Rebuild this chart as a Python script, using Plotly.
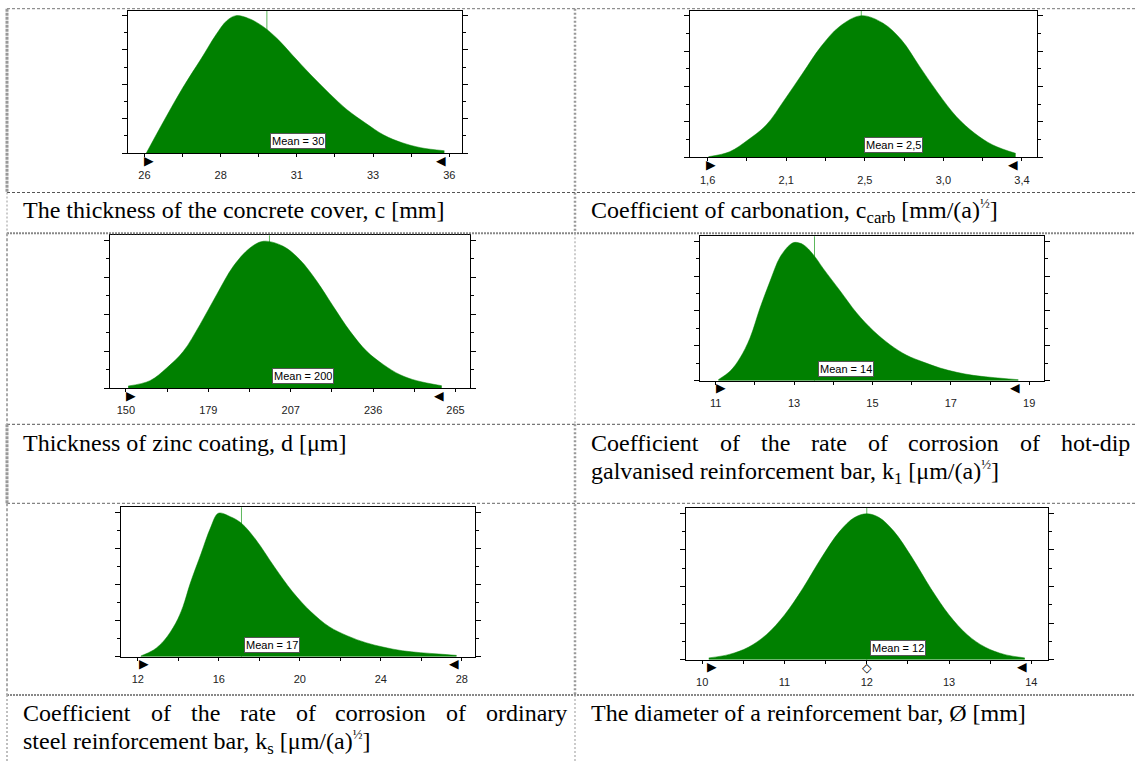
import plotly.graph_objects as go

W, H = 1135, 763

# ---------------------------------------------------------------
# Probability density curves (value, density relative to panel height)
# ---------------------------------------------------------------
cover_x = [26.06, 26.65, 27.26, 27.86, 28.33, 28.69, 28.99, 29.40, 29.88, 30.36,
           30.83, 31.44, 32.04, 32.63, 33.23, 33.82, 34.42, 35.03, 35.80]
cover_y = [0.0, 0.232, 0.462, 0.665, 0.829, 0.930, 0.965, 0.946, 0.888, 0.799,
           0.689, 0.548, 0.419, 0.302, 0.209, 0.126, 0.072, 0.037, 0.016]
cover_mean = 30
cover_ticks = ["26", "28", "31", "33", "36"]
cover_tick_span = (26.0, 35.96)

carb_x = [1.635, 1.755, 1.858, 1.962, 2.065, 2.168, 2.272, 2.376, 2.500, 2.624,
          2.728, 2.831, 2.935, 3.039, 3.142, 3.245, 3.374]
carb_y = [0.004, 0.038, 0.118, 0.220, 0.391, 0.573, 0.755, 0.891, 0.966, 0.914,
          0.800, 0.618, 0.437, 0.277, 0.164, 0.084, 0.027]
carb_mean = 2.5
carb_ticks = ["1,6", "2,1", "2,5", "3,0", "3,4"]
carb_tick_span = (1.63, 3.41)

zinc_x = [150.8, 158.4, 164.2, 170.0, 175.8, 181.6, 187.4, 193.2, 197.9, 204.8,
          210.6, 216.5, 222.2, 228.1, 233.9, 239.7, 245.5, 251.3, 260.0]
zinc_y = [0.013, 0.048, 0.131, 0.240, 0.415, 0.611, 0.797, 0.917, 0.961, 0.928,
          0.840, 0.699, 0.535, 0.371, 0.240, 0.153, 0.087, 0.048, 0.015]
zinc_mean = 200
zinc_ticks = ["150", "179", "207", "236", "265"]
zinc_tick_span = (150.0, 264.8)

k1_x = [11.559, 11.855, 12.109, 12.363, 12.617, 12.871, 13.124, 13.378, 13.505,
        13.716, 13.970, 14.224, 14.648, 15.071, 15.493, 15.917, 16.341, 16.762,
        17.186, 17.610, 18.031, 18.455, 19.173]
k1_y = [0.007, 0.065, 0.157, 0.296, 0.503, 0.688, 0.855, 0.942, 0.958,
        0.942, 0.873, 0.776, 0.623, 0.469, 0.346, 0.249, 0.176, 0.129,
        0.088, 0.058, 0.037, 0.024, 0.007]
k1_mean = 14
k1_ticks = ["11", "13", "15", "17", "19"]
k1_tick_span = (11.49, 19.45)

ks_x = [12.03, 12.66, 13.20, 13.75, 14.11, 14.47, 15.01, 15.46, 15.86, 16.45,
        17.00, 17.72, 18.62, 19.52, 20.43, 21.33, 22.24, 23.14, 24.04, 24.94,
        25.84, 26.75, 27.62]
ks_y = [0.005, 0.045, 0.112, 0.224, 0.335, 0.491, 0.692, 0.859, 0.960, 0.937,
        0.893, 0.781, 0.602, 0.435, 0.301, 0.201, 0.139, 0.094, 0.063, 0.040,
        0.027, 0.018, 0.009]
ks_mean = 17
ks_ticks = ["12", "16", "20", "24", "28"]
ks_tick_span = (11.88, 27.88)

dia_x = [10.08, 10.33, 10.56, 10.78, 11.00, 11.22, 11.45, 11.67, 11.85, 12.00,
         12.15, 12.33, 12.55, 12.78, 13.00, 13.22, 13.44, 13.67, 13.92]
dia_y = [0.012, 0.035, 0.082, 0.165, 0.295, 0.468, 0.673, 0.846, 0.937, 0.962,
         0.937, 0.846, 0.673, 0.468, 0.295, 0.165, 0.082, 0.035, 0.012]
dia_mean = 12
dia_ticks = ["10", "11", "12", "13", "14"]
dia_tick_span = (10.0, 14.0)
dia_base = 12

# ---------------------------------------------------------------
# Panel geometry: plot box in pixels (left, right, top, bottom) and x range
# ---------------------------------------------------------------
panels = [
    dict(x=cover_x, y=cover_y, mean=cover_mean, labels=cover_ticks, span=cover_tick_span,
         box=(128, 462, 10.7, 153), xr=(25.461, 36.376)),
    dict(x=carb_x, y=carb_y, mean=carb_mean, labels=carb_ticks, span=carb_tick_span,
         box=(689.5, 1037, 10.7, 157.3), xr=(1.5275, 3.495)),
    dict(x=zinc_x, y=zinc_y, mean=zinc_mean, labels=zinc_ticks, span=zinc_tick_span,
         box=(110, 470, 235.3, 388), xr=(144.46, 269.85)),
    dict(x=k1_x, y=k1_y, mean=k1_mean, labels=k1_ticks, span=k1_tick_span,
         box=(700, 1044, 236.3, 380.7), xr=(11.094, 19.825)),
    dict(x=ks_x, y=ks_y, mean=ks_mean, labels=ks_ticks, span=ks_tick_span,
         box=(121, 475, 507.3, 656.7), xr=(11.05, 28.532)),
    dict(x=dia_x, y=dia_y, mean=dia_mean, labels=dia_ticks, span=dia_tick_span,
         box=(685.5, 1047.5, 508, 659.7), xr=(9.797, 14.196), base=dia_base),
]

GREEN = "#008000"
MEAN_LINE = "#5cb85c"
SANS = "Arial, Liberation Sans, sans-serif"
TICK_FONT = dict(family=SANS, size=11, color="#222222")
SERIF = "Times New Roman, Liberation Serif, serif"
SYMBOL_FONT = "DejaVu Sans"


def fmt(v):
    return f"{v:g}".replace(".", ",")


fig = go.Figure()
layout = dict(
    width=W, height=H,
    margin=dict(l=0, r=0, t=0, b=0),
    paper_bgcolor="white",
    plot_bgcolor="rgba(0,0,0,0)",
    showlegend=False,
)
annotations = []
shapes = []

Y_STEP = 0.1208
y_major = [Y_STEP * k for k in (0, 2, 4, 6, 8)]
y_minor = [Y_STEP * k for k in (1, 3, 5, 7)]

for i, p in enumerate(panels, start=1):
    sfx = "" if i == 1 else str(i)
    xa, ya = "x" + sfx, "y" + sfx
    L, R, T, B = p["box"]

    t0, t4 = p["span"]
    step = (t4 - t0) / 4
    tickvals = [t0 + k * step for k in range(5)]
    minorvals = [t0 + (k + 0.5) * step for k in range(-1, 5)]

    layout["xaxis" + sfx] = dict(
        domain=[L / W, R / W], range=list(p["xr"]), anchor=ya,
        tickmode="array", tickvals=tickvals, ticktext=p["labels"],
        ticks="outside", ticklen=3, tickwidth=1, tickcolor="black",
        showline=True, linecolor="black", linewidth=1, mirror=True,
        showgrid=False, zeroline=False, tickfont=TICK_FONT,
        ticklabelstandoff=9, fixedrange=True,
        minor=dict(tickmode="array", tickvals=minorvals, ticks="outside",
                   ticklen=3, tickwidth=1, tickcolor="black", showgrid=False),
    )
    layout["yaxis" + sfx] = dict(
        domain=[1 - B / H, 1 - T / H], range=[0, 1], anchor=xa,
        tickmode="array", tickvals=y_major, ticks="outside", ticklen=5,
        tickwidth=1, tickcolor="black", showticklabels=False,
        showline=True, linecolor="black", linewidth=1, mirror="ticks",
        showgrid=False, zeroline=False, fixedrange=True,
        minor=dict(tickmode="array", tickvals=y_minor, ticks="outside",
                   ticklen=3, tickwidth=1, tickcolor="black", showgrid=False),
    )

    # mean marker line (visible above the filled density)
    shapes.append(dict(type="line", xref=xa, yref=ya + " domain",
                       x0=p["mean"], x1=p["mean"], y0=0, y1=1.0,
                       line=dict(color=MEAN_LINE, width=1), layer="below"))

    # filled density
    fig.add_trace(go.Scatter(
        x=p["x"], y=p["y"], xaxis=xa, yaxis=ya, mode="lines",
        line=dict(color=GREEN, width=0.5, shape="spline", smoothing=1.0),
        fill="tozeroy", fillcolor=GREEN, hoverinfo="skip",
    ))

    # delimiter triangles just under the axis at both ends of the curve
    for xv, glyph, anchor, shift in ((p["x"][0], "▶", "left", -3),
                                      (p["x"][-1], "◀", "right", 3)):
        annotations.append(dict(
            xref=xa, yref=ya, x=xv, y=0, xanchor=anchor, yanchor="middle",
            xshift=shift, yshift=-7, showarrow=False, text=glyph,
            font=dict(family=SYMBOL_FONT, size=12.5, color="black"), borderpad=0,
        ))

    if "base" in p:
        annotations.append(dict(
            xref=xa, yref=ya, x=p["base"], y=0, xanchor="center", yanchor="middle",
            yshift=-8, showarrow=False, text="◇",
            font=dict(family=SYMBOL_FONT, size=12.5, color="black"), borderpad=0,
        ))

    # mean label box
    annotations.append(dict(
        xref=xa, yref=ya, x=p["mean"], y=0, xanchor="left", yanchor="bottom",
        xshift=3, yshift=4, showarrow=False, text=f"Mean = {fmt(p['mean'])}",
        font=dict(family=SANS, size=11, color="black"),
        bgcolor="white", bordercolor="#555555", borderwidth=1, borderpad=1,
    ))

# ---------------------------------------------------------------
# Captions
# ---------------------------------------------------------------
CAP = 24
TIMES_W = {"C": 667, "o": 500, "e": 444, "f": 333, "i": 278, "c": 444, "n": 500,
           "t": 278, "h": 500, "r": 333, "a": 444, "s": 389, "d": 500, "p": 500,
           "-": 333, "y": 500}
HALF = '<sup><span style="font-size:13px">½</span></sup>'


def add_text(text, x_px, center_px, anchor="left"):
    annotations.append(dict(
        xref="paper", yref="paper", x=x_px / W, y=1 - center_px / H,
        xanchor=anchor, yanchor="middle", showarrow=False, text=text,
        font=dict(family=SERIF, size=CAP, color="black"), borderpad=0,
    ))


def add_justified(line, x0, x1, center_px):
    words = line.split()
    widths = [sum(TIMES_W[ch] for ch in w) / 1000 * CAP for w in words]
    gap = (x1 - x0 - sum(widths)) / (len(words) - 1)
    x = x0
    for w, wd in zip(words, widths):
        add_text(w, x, center_px)
        x += wd + gap


# baseline -> text box centre offsets (plain lines / lines with sub- and superscripts)
PLAIN = 0.3375 * CAP
SUBSUP = (0.891 - 0.3612) / 2 * CAP
LX, RX = 22, 590

add_text("The thickness of the concrete cover, c [mm]", LX, 218 - PLAIN)
add_text(f"Coefficient of carbonation, c<sub>carb</sub> [mm/(a){HALF}]", RX, 218 - SUBSUP)

add_text("Thickness of zinc coating, d [μm]", LX, 451.2 - PLAIN)
add_justified("Coefficient of the rate of corrosion of hot-dip", RX, 1129, 451.2 - PLAIN)
add_text(f"galvanised reinforcement bar, k<sub>1</sub> [μm/(a){HALF}]", RX, 478.6 - SUBSUP)

add_justified("Coefficient of the rate of corrosion of ordinary", LX, 566, 721.2 - PLAIN)
add_text(f"steel reinforcement bar, k<sub>s</sub> [μm/(a){HALF}]", LX, 748.6 - SUBSUP)
add_text("The diameter of a reinforcement bar, Ø [mm]", RX, 721.2 - PLAIN)

# ---------------------------------------------------------------
# Table rules
# ---------------------------------------------------------------
def hline(y_px, width, dash, color, x0=7, x1=W):
    shapes.append(dict(type="line", xref="paper", yref="paper",
                       x0=x0 / W, x1=x1 / W, y0=1 - y_px / H, y1=1 - y_px / H,
                       line=dict(color=color, width=width, dash=dash), layer="above"))


def vline(x_px, y0_px, y1_px, width, dash, color):
    shapes.append(dict(type="line", xref="paper", yref="paper",
                       x0=x_px / W, x1=x_px / W, y0=1 - y0_px / H, y1=1 - y1_px / H,
                       line=dict(color=color, width=width, dash=dash), layer="above"))


hline(8.7, 1, "3px,2px", "#777777")
hline(192.5, 1, "3px,2px", "#555555")
hline(233.3, 2, "2px,1px", "#888888")
hline(424.3, 1, "3px,2px", "#555555")
hline(503.3, 1, "3px,2px", "#666666")
hline(695.0, 2, "2px,1px", "#888888")

vline(7, 8.7, 192.5, 3, "3px,1px", "#999999")
vline(7, 192.5, 233.3, 1, "2px,2px", "#999999")
vline(7, 233.3, 424.3, 2, "3px,2px", "#aaaaaa")
vline(7, 424.3, 503.3, 3, "3px,1px", "#999999")
vline(7, 503.3, 695, 2, "3px,2px", "#aaaaaa")
vline(7, 695, 763, 1.5, "2px,2px", "#aaaaaa")

vline(575, 8.7, 233.3, 2.5, "2px,2px", "#999999")
vline(575, 233.3, 424.3, 1.2, "2px,2px", "#aaaaaa")
vline(575, 424.3, 695, 2.5, "2px,2px", "#999999")
vline(575, 695, 763, 1.2, "2px,2px", "#aaaaaa")

layout["annotations"] = annotations
layout["shapes"] = shapes
fig.update_layout(**layout)

fig.write_html("out.html", config={"displayModeBar": False})
